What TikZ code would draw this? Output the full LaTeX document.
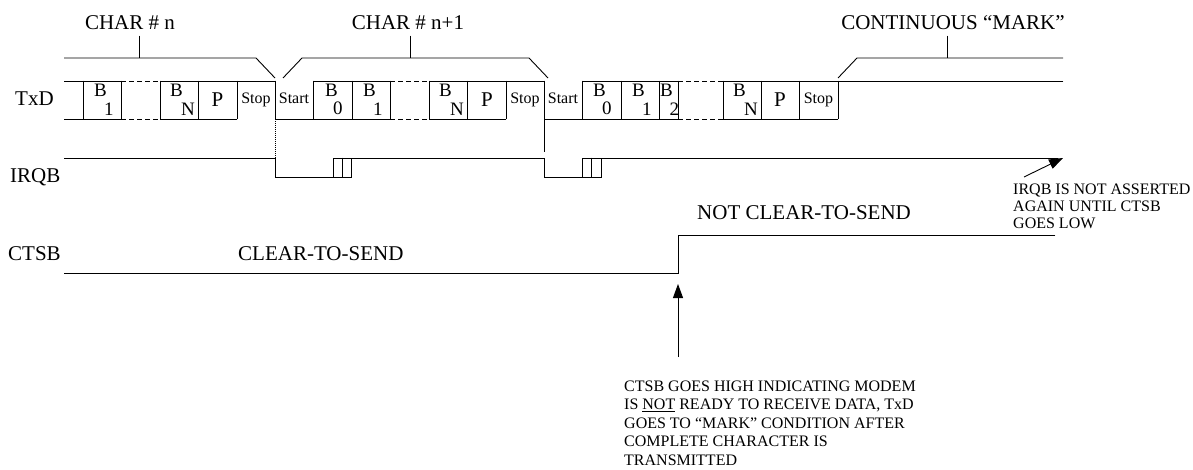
\documentclass[tikz,border=0pt]{standalone}
\usepackage{fontspec}
\setmainfont{Liberation Serif}
\usetikzlibrary{arrows.meta}
\begin{document}
\begin{tikzpicture}[x=1pt,y=-1pt,
  sig/.style={line width=0.9pt, line cap=rect},
  dsh/.style={line width=0.9pt, dash pattern=on 5pt off 3pt},
  dtt/.style={line width=0.8pt, dash pattern=on 1pt off 1pt},
  big/.style={font=\fontsize{21}{24}\selectfont, inner sep=0pt},
  small/.style={font=\fontsize{16}{18}\selectfont, inner sep=0pt, anchor=base west},
  bitB/.style={font=\fontsize{19}{21}\selectfont, inner sep=0pt, anchor=base west},
  tip/.style={-{Triangle[length=14pt,width=10pt]}, line width=0.9pt}
]
\useasboundingbox (0,0) rectangle (1193,470);

% ---------- TxD ----------
\node[big, anchor=base west] (lTxD) at (15,106) {TxD};
% top line (mark level)
\draw[sig] (64,81) -- (121,81);
\draw[dsh] (121,81) -- (160,81);
\draw[sig] (160,81) -- (275,81);
\draw[sig] (313,81) -- (390,81);
\draw[dsh] (390,81) -- (429,81);
\draw[sig] (429,81) -- (544,81);
\draw[sig] (582,81) -- (678,81);
\draw[dsh] (678,81) -- (723,81);
\draw[sig] (723,81) -- (1063,81);
% bottom line (space level)
\draw[sig] (64,119) -- (121,119);
\draw[dsh] (121,119) -- (160,119);
\draw[sig] (160,119) -- (237,119);
\draw[sig] (275,119) -- (390,119);
\draw[dsh] (390,119) -- (429,119);
\draw[sig] (429,119) -- (506,119);
\draw[sig] (544,119) -- (678,119);
\draw[dsh] (678,119) -- (723,119);
\draw[sig] (723,119) -- (838,119);
% bit boundaries
\foreach \x in {83,121,160,198,237,275,313,352,390,429,467,506,544,582,621,659,678,723,761,799,838}
  \draw[sig] (\x,81) -- (\x,119);
\draw[dtt] (275,119) -- (275,158);
\draw[sig] (544,119) -- (544,152);

% bit labels
\node[bitB] (b1a) at (94,97) {B};   \node[bitB] (b1s) at (104,116) {1};
\node[bitB] (bna) at (170,97) {B};  \node[bitB] (bns) at (181,116) {N};
\node[big, anchor=base] (p1) at (217.5,107) {P};
\node[small, anchor=base] (st1) at (256,104) {Stop};
\node[small, anchor=base] (sa1) at (294,104) {Start};
\node[bitB] (b0a) at (325,97) {B};  \node[bitB] (b0s) at (333,115) {0};
\node[bitB] (b1b) at (363,97) {B};  \node[bitB] (b1bs) at (373,116) {1};
\node[bitB] (bnb) at (439,97) {B};  \node[bitB] (bnbs) at (450,116) {N};
\node[big, anchor=base] (p2) at (487,107) {P};
\node[small, anchor=base] (st2) at (525,104) {Stop};
\node[small, anchor=base] (sa2) at (563,104) {Start};
\node[bitB] (b0c) at (593,97) {B};  \node[bitB] (b0cs) at (602,115) {0};
\node[bitB] (b1c) at (632,97) {B};  \node[bitB] (b1cs) at (642,116) {1};
\node[bitB] (b2c) at (660,97) {B};  \node[bitB] (b2cs) at (669.5,116) {2};
\node[bitB] (bnc) at (733,97) {B};  \node[bitB] (bncs) at (744,116) {N};
\node[big, anchor=base] (p3) at (780,107) {P};
\node[small, anchor=base] (st3) at (818.5,104) {Stop};

% brackets
\draw[sig, line cap=butt] (64,58) -- (256,58) -- (275,78);
\draw[sig] (139,58) -- (139,36);
\node[big, anchor=base] (chn) at (130,30) {CHAR \# n};
\draw[sig, line cap=butt] (283,78) -- (302,58) -- (529,58) -- (548,78);
\draw[sig] (410,58) -- (410,36);
\node[big, anchor=base] (chn1) at (408,30) {CHAR \# n+1};
\draw[sig, line cap=butt] (838,78) -- (857,58) -- (1063,58);
\draw[sig] (947,58) -- (947,36);
\node[big, anchor=base] (cm) at (953,30) {CONTINUOUS “MARK”};

% ---------- IRQB ----------
\node[big, anchor=base west] (lIRQB) at (10,183) {IRQB};
\draw[sig] (64,158) -- (275,158) -- (275,177) -- (333,177);
\draw[sig] (333,158) rectangle (351,177);
\draw[sig] (342,158) -- (342,177);
\draw[sig] (351,158) -- (544,158) -- (544,177) -- (582,177);
\draw[sig] (582,158) rectangle (601,177);
\draw[sig] (591,158) -- (591,177);
\draw[sig] (601,158) -- (1058,158);
\coordinate (irqEnd) at (1063,158);
\coordinate (irqNote) at (1024,177);
\draw[tip] (irqNote) -- (irqEnd);
\node[small] (n1) at (1013,195) {IRQB IS NOT ASSERTED};
\node[small] (n2) at (1013,212) {AGAIN UNTIL CTSB};
\node[small] (n3) at (1013,229) {GOES LOW};

% ---------- CTSB ----------
\node[big, anchor=base west] (lCTSB) at (8,260) {CTSB};
\node[big, anchor=base west] (cts) at (238,260) {CLEAR-TO-SEND};
\node[big, anchor=base west] (ncts) at (697,220) {NOT CLEAR-TO-SEND};
\draw[sig] (64,273) -- (678,273) -- (678,235) -- (1055,235);
\coordinate (ctsRise) at (678,284);
\coordinate (ctsFoot) at (678,357);
\draw[tip] (ctsFoot) -- (ctsRise);
\node[small] (m1) at (624,391) {CTSB GOES HIGH INDICATING MODEM};
\node[small] (m2) at (624,409.5) {IS \underline{NOT} READY TO RECEIVE DATA, TxD};
\node[small] (m3) at (624,428) {GOES TO “MARK” CONDITION AFTER};
\node[small] (m4) at (624,446.5) {COMPLETE CHARACTER IS};
\node[small] (m5) at (624,465) {TRANSMITTED};
\end{tikzpicture}
\end{document}
